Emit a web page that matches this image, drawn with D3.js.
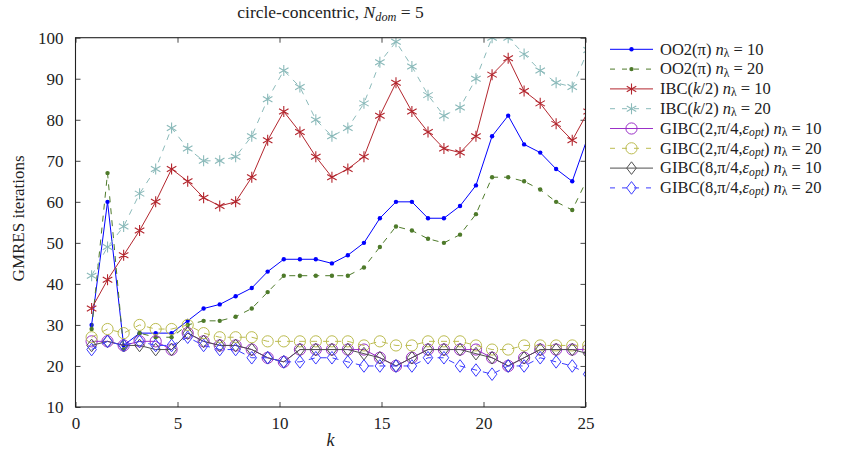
<!DOCTYPE html>
<html>
<head>
<meta charset="utf-8">
<script src="https://cdn.jsdelivr.net/npm/d3@7"></script>
<style>
  body { margin: 0; background: #fff; }
</style>
</head>
<body>
<svg id="chart" width="857" height="455" font-family="Liberation Serif"></svg>
<script>
// k = n*pi/4, n = 1..32
const kValues = [0.79, 1.57, 2.36, 3.14, 3.93, 4.71, 5.50, 6.28, 7.07, 7.85, 8.64, 9.42,
                 10.21, 11.00, 11.78, 12.57, 13.35, 14.14, 14.92, 15.71, 16.49, 17.28,
                 18.06, 18.85, 19.63, 20.42, 21.21, 21.99, 22.78, 23.56, 24.35, 25.13];

const oo2_10   = [30,60,25,28,28,28,31,34,35,37,39,43,46,46,46,45,47,50,56,60,60,56,56,59,64,76,81,74,72,68,65,76];
const oo2_20   = [29,67,24,28,27,27,30,31,31,32,34,38,42,42,42,42,42,44,49,54,53,51,50,52,57,66,66,65,63,60,58,66];
const ibc_10   = [34,41,47,53,60,68,65,61,59,60,66,75,82,77,71,66,68,71,81,89,82,77,73,72,76,91,95,87,84,79,75,82];
const ibc_20   = [42,49,54,62,68,78,73,70,70,71,76,85,92,88,80,76,78,84,94,99,93,86,81,83,90,100,100,96,92,89,88,97];
const gibc2_10 = [26,26,25,26,26,24,28,26,25,25,24,22,21,24,24,24,24,24,22,20,22,24,24,24,24,22,20,22,24,24,24,24];
const gibc2_20 = [27,29,28,30,29,29,30,28,27,27,27,26,26,26,26,26,26,25,26,25,25,26,26,26,25,24,24,25,25,25,25,25];
const gibc8_10 = [25,26,25,25,24,24,28,26,25,25,24,22,21,24,24,24,24,23,22,20,22,24,24,24,23,22,20,22,24,24,24,23];
const gibc8_20 = [24,26,25,26,25,25,27,25,24,24,22,22,21,21,22,22,21,20,20,20,20,22,22,20,19,18,20,20,22,21,20,18];

const xTicks = [0, 5, 10, 15, 20, 25];
const yTicks = [10, 20, 30, 40, 50, 60, 70, 80, 90, 100];

const series = [
  { values: oo2_10,   color: "#0000ff", dash: null,  mark: "dot",
    label: [{t: "OO2(π) "}, {t: "n", i: 1}, {t: "λ", sub: 1}, {t: " = 10"}] },
  { values: oo2_20,   color: "#4e7a2a", dash: "6,6", mark: "dot",
    label: [{t: "OO2(π) "}, {t: "n", i: 1}, {t: "λ", sub: 1}, {t: " = 20"}] },
  { values: ibc_10,   color: "#b3262e", dash: null,  mark: "asterisk",
    label: [{t: "IBC("}, {t: "k", i: 1}, {t: "/2) "}, {t: "n", i: 1}, {t: "λ", sub: 1}, {t: " = 10"}] },
  { values: ibc_20,   color: "#8bbaba", dash: "6,6", mark: "asterisk",
    label: [{t: "IBC("}, {t: "k", i: 1}, {t: "/2) "}, {t: "n", i: 1}, {t: "λ", sub: 1}, {t: " = 20"}] },
  { values: gibc2_10, color: "#9b30c8", dash: null,  mark: "circle",
    label: [{t: "GIBC(2,π/4,"}, {t: "ε", i: 1}, {t: "opt", i: 1, sub: 1}, {t: ") "}, {t: "n", i: 1}, {t: "λ", sub: 1}, {t: " = 10"}] },
  { values: gibc2_20, color: "#bcbc50", dash: "6,6", mark: "circle",
    label: [{t: "GIBC(2,π/4,"}, {t: "ε", i: 1}, {t: "opt", i: 1, sub: 1}, {t: ") "}, {t: "n", i: 1}, {t: "λ", sub: 1}, {t: " = 20"}] },
  { values: gibc8_10, color: "#505050", dash: null,  mark: "diamond",
    label: [{t: "GIBC(8,π/4,"}, {t: "ε", i: 1}, {t: "opt", i: 1, sub: 1}, {t: ") "}, {t: "n", i: 1}, {t: "λ", sub: 1}, {t: " = 10"}] },
  { values: gibc8_20, color: "#3c3cff", dash: "6,6", mark: "diamond",
    label: [{t: "GIBC(8,π/4,"}, {t: "ε", i: 1}, {t: "opt", i: 1, sub: 1}, {t: ") "}, {t: "n", i: 1}, {t: "λ", sub: 1}, {t: " = 20"}] }
];

const plotLeft = 75.5, plotRight = 585.5, plotTop = 37.7, plotBottom = 407;
const fontSize = 17;
const legendSize = 16.5;
const serif = "Liberation Serif";

const svg = d3.select("#chart");

const x = d3.scaleLinear().domain([0, 25]).range([plotLeft, plotRight]);
const y = d3.scaleLinear().domain([10, 100]).range([plotBottom, plotTop]);

svg.append("defs").append("clipPath")
    .attr("id", "clip")
    .append("rect")
    .attr("x", plotLeft).attr("y", plotTop)
    .attr("width", plotRight - plotLeft).attr("height", plotBottom - plotTop);

// axes, ticks pointing inward on all four sides
const axB = svg.append("g").attr("transform", "translate(0," + plotBottom + ")")
    .call(d3.axisBottom(x).tickValues(xTicks).tickSizeInner(-5).tickSizeOuter(0).tickPadding(10));
const axT = svg.append("g").attr("transform", "translate(0," + plotTop + ")")
    .call(d3.axisTop(x).tickValues(xTicks).tickSizeInner(-5).tickSizeOuter(0).tickFormat(""));
const axL = svg.append("g").attr("transform", "translate(" + plotLeft + ",0)")
    .call(d3.axisLeft(y).tickValues(yTicks).tickSizeInner(-5).tickSizeOuter(0).tickPadding(12));
const axR = svg.append("g").attr("transform", "translate(" + plotRight + ",0)")
    .call(d3.axisRight(y).tickValues(yTicks).tickSizeInner(-5).tickSizeOuter(0).tickFormat(""));

[axB, axT, axL, axR].forEach(function(a) {
  a.attr("font-family", serif).attr("font-size", fontSize);
  a.select(".domain").remove();
  a.selectAll("line").attr("stroke", "#333").attr("stroke-width", 0.9);
  a.selectAll("text").attr("fill", "#222");
});

// curves
const line = d3.line()
    .x(function(d, i) { return x(kValues[i]); })
    .y(function(d) { return y(d); });

const plot = svg.append("g").attr("clip-path", "url(#clip)");

function drawMark(g, type, color, cx, cy) {
  if (type === "dot") {
    g.append("circle").attr("cx", cx).attr("cy", cy).attr("r", 2.2).attr("fill", color);
  } else if (type === "asterisk") {
    const r = 5.5;
    let p = "";
    [90, 30, -30].forEach(function(a) {
      const dx = r * Math.cos(a * Math.PI / 180), dy = r * Math.sin(a * Math.PI / 180);
      p += "M" + (cx - dx) + "," + (cy - dy) + "L" + (cx + dx) + "," + (cy + dy);
    });
    g.append("path").attr("d", p).attr("stroke", color).attr("stroke-width", 1.1).attr("fill", "none");
  } else if (type === "circle") {
    g.append("circle").attr("cx", cx).attr("cy", cy).attr("r", 5.6)
      .attr("fill", "none").attr("stroke", color).attr("stroke-width", 1);
  } else if (type === "diamond") {
    const w = 4.8, h = 6.3;
    g.append("path")
      .attr("d", "M" + cx + "," + (cy - h) + "L" + (cx + w) + "," + cy + "L" + cx + "," + (cy + h) + "L" + (cx - w) + "," + cy + "Z")
      .attr("fill", "none").attr("stroke", color).attr("stroke-width", 1);
  }
}

series.forEach(function(s) {
  const g = plot.append("g");
  g.append("path")
    .datum(s.values)
    .attr("d", line)
    .attr("fill", "none")
    .attr("stroke", s.color)
    .attr("stroke-width", 1)
    .attr("stroke-dasharray", s.dash);
  s.values.forEach(function(v, i) {
    drawMark(g, s.mark, s.color, x(kValues[i]), y(v));
  });
});

// frame
svg.append("rect")
    .attr("x", plotLeft).attr("y", plotTop)
    .attr("width", plotRight - plotLeft).attr("height", plotBottom - plotTop)
    .attr("fill", "none").attr("stroke", "#222").attr("stroke-width", 1.1);

function richText(t, parts, size, shift) {
  let shifted = false;
  parts.forEach(function(p) {
    const ts = t.append("tspan").text(p.t);
    if (p.i) ts.attr("font-style", "italic");
    if (p.sub) {
      ts.attr("font-size", size * 0.7);
      if (!shifted) { ts.attr("dy", shift); shifted = true; }
    } else if (shifted) {
      ts.attr("dy", -shift); shifted = false;
    }
  });
}

// title
const title = svg.append("text")
    .attr("x", (plotLeft + plotRight) / 2).attr("y", 18)
    .attr("text-anchor", "middle")
    .attr("font-family", serif)
    .attr("font-size", 17.5)
    .attr("fill", "#222");
richText(title, [{t: "circle-concentric, "}, {t: "N", i: 1}, {t: "dom", i: 1, sub: 1}, {t: " = 5"}], 17.5, 3);

// axis labels
svg.append("text")
    .attr("x", (plotLeft + plotRight) / 2).attr("y", 446)
    .attr("text-anchor", "middle")
    .attr("font-family", serif)
    .attr("font-size", 18)
    .attr("font-style", "italic")
    .attr("fill", "#222")
    .text("k");

svg.append("text")
    .attr("transform", "translate(24," + ((plotTop + plotBottom) / 2 - 4) + ") rotate(-90)")
    .attr("text-anchor", "middle")
    .attr("font-family", serif)
    .attr("font-size", fontSize)
    .attr("fill", "#222")
    .text("GMRES iterations");

// legend
const legend = svg.append("g");
series.forEach(function(s, i) {
  const cy = 49.3 + i * 19.8;
  const row = legend.append("g");
  row.append("line")
    .attr("x1", 610).attr("x2", 653).attr("y1", cy).attr("y2", cy)
    .attr("stroke", s.color).attr("stroke-width", 1)
    .attr("stroke-dasharray", s.dash ? "5,7" : null);
  drawMark(row, s.mark, s.color, 631.5, cy);
  const t = row.append("text")
    .attr("x", 660).attr("y", cy + 5.3)
    .attr("font-family", serif)
    .attr("font-size", legendSize)
    .attr("fill", "#222");
  richText(t, s.label, legendSize, 2.2);
});
</script>
</body>
</html>
